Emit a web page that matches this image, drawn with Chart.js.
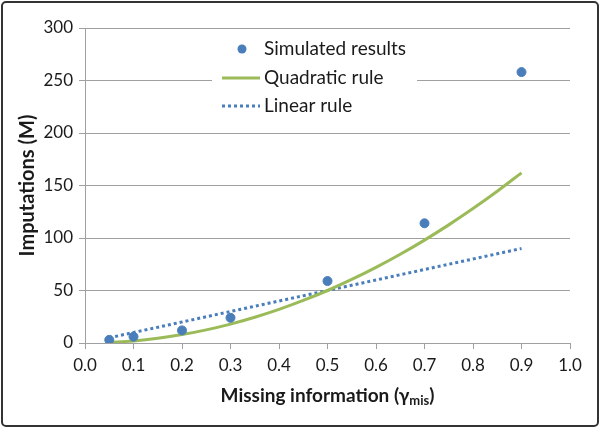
<!DOCTYPE html>
<html>
<head>
<meta charset="utf-8">
<script src="https://cdn.jsdelivr.net/npm/chart.js@4"></script>
<style>
  html, body { margin: 0; padding: 0; background: #fff; }
  #wrap { width: 600px; height: 428px; }
</style>
</head>
<body>
<div id="wrap"><canvas id="chart" width="600" height="428"></canvas></div>
<script>
/* global Chart */
// data
const simX = [0.05, 0.1, 0.2, 0.3, 0.5, 0.7, 0.9];
const simM = [3, 6, 12, 24, 59, 114, 258];

const quadX = [0.05, 0.1, 0.15, 0.2, 0.25, 0.3, 0.35, 0.4, 0.45, 0.5, 0.55, 0.6, 0.65, 0.7, 0.75, 0.8, 0.85, 0.9];
const quadM = [0.5, 2, 4.5, 8, 12.5, 18, 24.5, 32, 40.5, 50, 60.5, 72, 84.5, 98, 112.5, 128, 144.5, 162];

const linX = [0.05, 0.9];
const linM = [5, 90];

const seriesNames = ['Simulated results', 'Quadratic rule', 'Linear rule'];
const yTitle = 'Imputations (M)';
const xTitle = 'Missing information (γ';
const xTitleSub = 'mis';

const FONT = 'Lato';
const BLUE = '#4a7ebb';
const GREEN = '#9bbb59';
const GRID = '#a0a0a0';

function pairs(xs, ys) {
  return xs.map((x, i) => ({ x: x, y: ys[i] }));
}

// legend inside plot area + x title with subscript + outer frame
const extras = {
  id: 'extras',
  beforeDatasetsDraw(chart) {
    const ctx = chart.ctx;
    ctx.save();
    ctx.fillStyle = '#fff';
    ctx.fillRect(212, 36, 205, 84);
    ctx.restore();
  },
  afterDraw(chart) {
    const ctx = chart.ctx;
    const ds = chart.data.datasets;
    ctx.save();
    ctx.textBaseline = 'middle';
    const rows = [49, 78, 106];
    // dot
    ctx.fillStyle = ds[0].backgroundColor;
    ctx.beginPath();
    ctx.arc(242, rows[0], 4.5, 0, Math.PI * 2);
    ctx.fill();
    // quadratic sample
    ctx.strokeStyle = ds[1].borderColor;
    ctx.lineWidth = ds[1].borderWidth;
    ctx.beginPath();
    ctx.moveTo(222, rows[1]);
    ctx.lineTo(260, rows[1]);
    ctx.stroke();
    // linear sample
    ctx.strokeStyle = ds[2].borderColor;
    ctx.lineWidth = ds[2].borderWidth;
    ctx.setLineDash(ds[2].borderDash);
    ctx.beginPath();
    ctx.moveTo(222, rows[2]);
    ctx.lineTo(260, rows[2]);
    ctx.stroke();
    ctx.setLineDash([]);
    ctx.fillStyle = '#1a1a1a';
    ctx.font = '19px ' + FONT;
    seriesNames.forEach((name, i) => ctx.fillText(name, 264, rows[i]));

    // x axis title
    const area = chart.chartArea;
    const cx = (area.left + area.right) / 2;
    ctx.font = 'bold 19px ' + FONT;
    const w1 = ctx.measureText(xTitle).width;
    ctx.font = 'bold 13px ' + FONT;
    const w2 = ctx.measureText(xTitleSub).width;
    ctx.font = 'bold 19px ' + FONT;
    const w3 = ctx.measureText(')').width;
    const x0 = cx - (w1 + w2 + w3) / 2;
    const y0 = 396;
    ctx.fillText(xTitle, x0, y0);
    ctx.font = 'bold 13px ' + FONT;
    ctx.fillText(xTitleSub, x0 + w1, y0 + 5);
    ctx.font = 'bold 19px ' + FONT;
    ctx.fillText(')', x0 + w1 + w2, y0);

    // frame
    ctx.strokeStyle = '#333';
    ctx.lineWidth = 2;
    ctx.beginPath();
    ctx.roundRect(2, 2, 596, 424, 4);
    ctx.stroke();
    ctx.restore();
  }
};

const ctx = document.getElementById('chart').getContext('2d');
new Chart(ctx, {
  type: 'scatter',
  data: {
    datasets: [
      {
        label: seriesNames[0],
        data: pairs(simX, simM),
        backgroundColor: BLUE,
        borderColor: BLUE,
        pointRadius: 4.5,
        showLine: false,
      },
      {
        label: seriesNames[1],
        data: pairs(quadX, quadM),
        borderColor: GREEN,
        backgroundColor: GREEN,
        borderWidth: 3,
        pointRadius: 0,
        showLine: true,
        cubicInterpolationMode: 'monotone',
      },
      {
        label: seriesNames[2],
        data: pairs(linX, linM),
        borderColor: BLUE,
        backgroundColor: BLUE,
        borderWidth: 3,
        borderDash: [3, 3],
        pointRadius: 0,
        showLine: true,
      },
    ],
  },
  plugins: [extras],
  options: {
    responsive: false,
    animation: false,
    layout: { padding: { left: 0, right: 30, top: 28, bottom: 0 } },
    plugins: {
      legend: { display: false },
      tooltip: { enabled: false },
    },
    scales: {
      x: {
        type: 'linear',
        min: 0,
        max: 1,
        afterFit: (s) => { s.height = 85; },
        ticks: {
          stepSize: 0.1,
          color: '#1a1a1a',
          font: { family: FONT, size: 17 },
          padding: 6,
          maxRotation: 0,
          callback: (v) => v.toFixed(1),
        },
        grid: {
          drawOnChartArea: false,
          drawTicks: true,
          tickLength: 6,
          color: GRID,
        },
        border: { display: true, color: GRID, width: 1 },
      },
      y: {
        min: 0,
        max: 300,
        afterFit: (s) => { s.width = 85; },
        ticks: {
          stepSize: 50,
          color: '#1a1a1a',
          font: { family: FONT, size: 17 },
          padding: 6,
        },
        grid: {
          color: GRID,
          tickLength: 6,
        },
        border: { display: true, color: GRID, width: 1 },
        title: {
          display: true,
          text: yTitle,
          color: '#1a1a1a',
          font: { family: FONT, size: 20, weight: 'bold' },
          padding: { top: 16, bottom: 0 },
        },
      },
    },
  },
});
</script>
</body>
</html>
